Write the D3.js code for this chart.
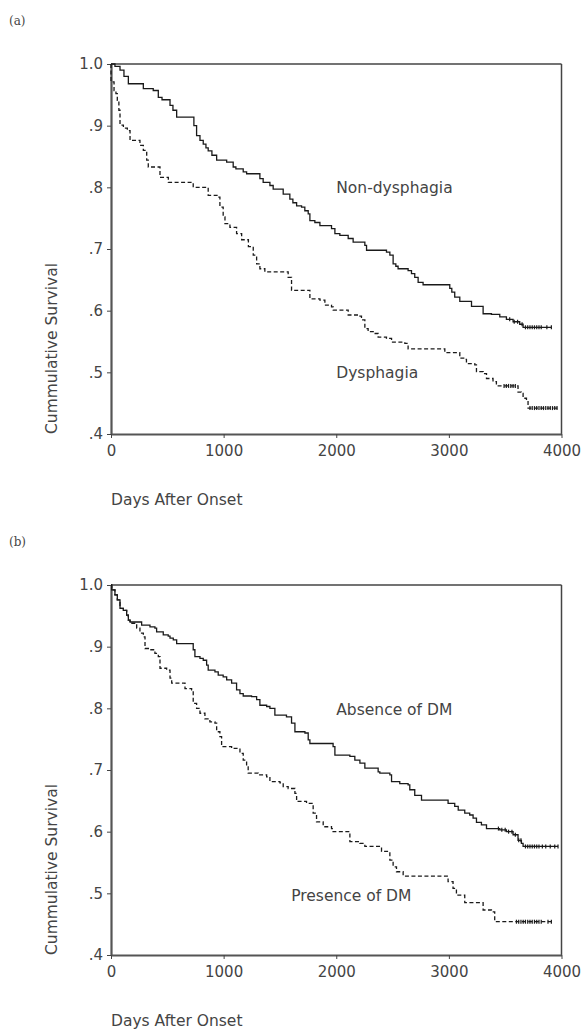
<!DOCTYPE html>
<html>
<head>
<meta charset="utf-8">
<script src="https://cdn.jsdelivr.net/npm/d3@7"></script>
<style>
  body { margin: 0; background: #fff; }
  text { font-family: "DejaVu Sans", Verdana, sans-serif; fill: #444; }
</style>
</head>
<body>
<div id="area"></div>
<script>
// (a) non-dysphagia vs dysphagia
const aNonDays = [35,80,115,154,287,375,420,453,524,550,583,736,760,790,819,843,863,896,938,1027,1085,1109,1174,1204,1322,1351,1411,1440,1529,1588,1615,1648,1692,1721,1751,1766,1810,1855,1958,1988,2032,2106,2150,2254,2269,2446,2476,2505,2529,2549,2638,2668,2697,2727,2771,3008,3026,3052,3097,3201,3304,3378,3452,3511,3570,3629,3659]
const aNonSurv = [.996,.990,.980,.968,.960,.957,.946,.942,.933,.925,.914,.900,.884,.876,.870,.864,.859,.852,.844,.841,.833,.830,.825,.822,.814,.808,.803,.797,.789,.781,.775,.770,.768,.762,.757,.746,.743,.738,.733,.725,.722,.717,.711,.706,.698,.695,.690,.676,.672,.668,.665,.660,.654,.646,.642,.636,.630,.622,.615,.607,.595,.594,.590,.586,.582,.578,.573]
const aNonCensor = [3540,3580,3610,3650,3680,3700,3720,3740,3760,3780,3800,3820,3870,3910]

const aDysDays = [0,27,44,56,70,80,110,145,169,257,287,317,331,435,509,730,863,952,967,996,1012,1056,1115,1160,1220,1263,1293,1322,1366,1573,1603,1766,1855,1899,1958,1973,2106,2194,2224,2254,2283,2328,2372,2446,2491,2609,2638,2964,3097,3141,3156,3230,3245,3304,3334,3392,3422,3614,3644,3659,3689,3703]
const aDysSurv = [.971,.957,.952,.941,.925,.901,.896,.892,.876,.868,.860,.844,.833,.816,.808,.800,.787,.784,.768,.752,.741,.735,.725,.715,.704,.690,.676,.668,.663,.654,.633,.619,.617,.609,.606,.601,.593,.591,.585,.571,.566,.563,.557,.555,.549,.547,.538,.532,.523,.521,.514,.512,.501,.498,.490,.485,.478,.468,.466,.458,.455,.442]
const aDysCensor = [3490,3510,3530,3550,3570,3590,3720,3740,3760,3780,3800,3820,3840,3860,3880,3900,3920,3940,3960]

// (b) absence vs presence of DM
const bAbsDays = [6,35,56,80,109,139,154,169,272,346,390,405,464,508,524,553,583,730,745,790,819,849,863,923,952,996,1027,1071,1115,1145,1174,1248,1293,1322,1382,1411,1455,1558,1603,1633,1722,1751,1766,1972,1988,2121,2165,2210,2254,2372,2387,2476,2491,2564,2638,2653,2697,2757,2993,3052,3083,3141,3185,3215,3245,3289,3334,3452,3511,3570,3614,3644,3659]
const bAbsSurv = [.992,.984,.976,.962,.959,.951,.943,.940,.935,.932,.930,.924,.919,.917,.914,.911,.905,.895,.884,.881,.878,.870,.862,.859,.854,.851,.846,.841,.830,.824,.820,.819,.814,.805,.803,.800,.789,.786,.776,.762,.760,.749,.743,.738,.724,.722,.716,.711,.703,.697,.695,.692,.681,.678,.676,.668,.659,.651,.646,.641,.635,.630,.627,.622,.615,.611,.605,.603,.600,.595,.586,.581,.576]
const bAbsCensor = [3440,3470,3500,3530,3560,3590,3620,3640,3680,3700,3720,3740,3760,3780,3800,3830,3860,3900,3940,3969]

const bPreDays = [6,35,56,80,109,139,154,169,228,257,287,302,346,390,420,435,494,524,539,657,716,730,760,790,834,878,923,938,967,982,1071,1145,1174,1204,1218,1307,1382,1411,1500,1529,1573,1633,1648,1736,1795,1825,1884,1958,1972,2121,2209,2254,2402,2476,2505,2535,2594,2993,3037,3067,3141,3304,3378,3407]
const bPreSurv = [.992,.984,.976,.962,.959,.951,.943,.938,.930,.922,.916,.897,.895,.889,.884,.865,.862,.849,.841,.832,.830,.808,.800,.792,.783,.778,.776,.762,.754,.738,.735,.727,.716,.705,.695,.692,.689,.681,.679,.673,.670,.662,.649,.646,.630,.616,.608,.605,.600,.584,.581,.576,.568,.554,.543,.535,.528,.519,.508,.497,.485,.473,.470,.454]
const bPreCensor = [3600,3620,3640,3660,3680,3700,3720,3740,3760,3780,3800,3820,3880,3910]

const xTicks = [0,1000,2000,3000,4000]
const yTicks = [.4,.5,.6,.7,.8,.9,1.0]

const svg = d3.select('#area')
            .append('svg')
            .attr('width',584)
            .attr('height',1030)

const xScale = d3.scaleLinear()
              .domain([0,4000])
              .range([111,561.5])

function buildSteps(days, surv, end) {
  let pts = [[0,1]]
  days.forEach((d,i) => pts.push([d, surv[i]]))
  pts.push([end, surv[surv.length-1]])
  return pts
}

function survAt(days, surv, t) {
  let i = d3.bisectRight(days, t)
  return i === 0 ? 1 : surv[i-1]
}

function drawPanel(top, tag, series, labels) {
  const yScale = d3.scaleLinear()
                .domain([.4,1])
                .range([top+370, top])
  const g = svg.append('g')

  g.append('text')
    .attr('x',9)
    .attr('y',top-39)
    .style('font-family','"DejaVu Serif", serif')
    .style('font-size','12px')
    .text(tag)

  // frame top + right
  g.append('line')
    .attr('x1',xScale(0)).attr('x2',xScale(4000))
    .attr('y1',yScale(1)).attr('y2',yScale(1))
    .attr('stroke','#444').attr('stroke-width',1.5)
  g.append('line')
    .attr('x1',xScale(4000)).attr('x2',xScale(4000))
    .attr('y1',yScale(1)).attr('y2',yScale(.4))
    .attr('stroke','#444').attr('stroke-width',1.5)

  const yAxis = d3.axisLeft(yScale)
                .tickValues(yTicks)
                .tickSize(4)
                .tickSizeOuter(0)
                .tickPadding(4)
                .tickFormat(d => d === 1 ? '1.0' : d3.format('.1f')(d).slice(1))
  const xAxis = d3.axisBottom(xScale)
                .tickValues(xTicks)
                .tickSize(4)
                .tickSizeOuter(0)
                .tickPadding(7)
                .tickFormat(d3.format('d'))

  const ya = g.append('g').attr('transform',`translate(${xScale(0)},0)`).call(yAxis)
  const xa = g.append('g').attr('transform',`translate(0,${yScale(.4)})`).call(xAxis)
  ;[ya,xa].forEach(a => {
    a.attr('font-family',null).attr('font-size',null)
    a.select('.domain').attr('stroke','#555').attr('stroke-width',2.2)
    a.selectAll('.tick line').attr('stroke','#444').attr('stroke-width',1)
    a.selectAll('.tick text').style('font-size','15px').attr('fill','#444')
  })

  g.append('text')
    .attr('transform',`translate(57,${yScale(.4)}) rotate(-90)`)
    .style('font-size','15.5px')
    .text('Cummulative Survival')

  g.append('text')
    .attr('x',xScale(0))
    .attr('y',yScale(.4)+71)
    .style('font-size','15.5px')
    .text('Days After Onset')

  const line = d3.line()
                .x(d => xScale(d[0]))
                .y(d => yScale(d[1]))
                .curve(d3.curveStepAfter)

  series.forEach(s => {
    g.append('path')
      .datum(buildSteps(s.days, s.surv, s.end))
      .attr('d', line)
      .attr('fill','none')
      .attr('stroke','#1a1a1a')
      .attr('stroke-width',1.3)
      .attr('stroke-dasharray', s.dash ? '4,2.5' : null)

    g.selectAll(null)
      .data(s.censor)
      .enter()
      .append('line')
      .attr('x1', t => xScale(t))
      .attr('x2', t => xScale(t))
      .attr('y1', t => yScale(survAt(s.days, s.surv, t)) - 2)
      .attr('y2', t => yScale(survAt(s.days, s.surv, t)) + 2)
      .attr('stroke','#1a1a1a')
      .attr('stroke-width',1.2)
  })

  labels.forEach(l => {
    g.append('text')
      .attr('x', xScale(l.t))
      .attr('y', yScale(l.s))
      .style('font-size','15.5px')
      .text(l.text)
  })
}

drawPanel(64, '(a)', [
  {days: aNonDays, surv: aNonSurv, censor: aNonCensor, end: 3910, dash: false},
  {days: aDysDays, surv: aDysSurv, censor: aDysCensor, end: 3969, dash: true}
], [
  {text: 'Non-dysphagia', t: 2000, s: .791},
  {text: 'Dysphagia', t: 2000, s: .491}
])

drawPanel(585, '(b)', [
  {days: bAbsDays, surv: bAbsSurv, censor: bAbsCensor, end: 3969, dash: false},
  {days: bPreDays, surv: bPreSurv, censor: bPreCensor, end: 3910, dash: true}
], [
  {text: 'Absence of DM', t: 2000, s: .789},
  {text: 'Presence of DM', t: 1600, s: .488}
])
</script>
</body>
</html>
